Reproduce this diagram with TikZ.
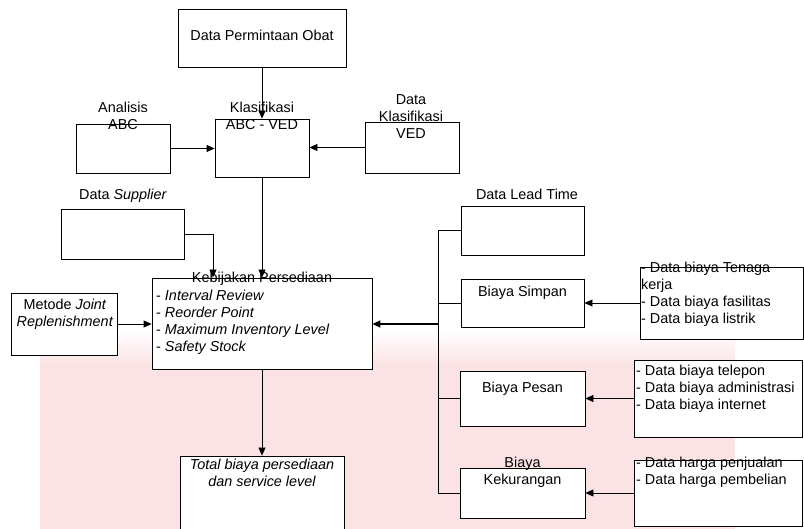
\documentclass[tikz,border=0pt]{standalone}
\usepackage{fontspec}
\setmainfont{Liberation Sans}
\usetikzlibrary{arrows.meta}
\definecolor{wm}{RGB}{251,227,229}
\begin{document}
\begin{tikzpicture}[x=1pt,y=-1pt,
  box/.style={draw, line width=0.8pt, fill=white, inner sep=0pt},
  lbl/.style={inner sep=0pt, font=\fontsize{14.4}{17}\selectfont},
  arr/.style={-{Triangle[length=8pt,width=7pt]}, line width=0.8pt},
  ln/.style={line width=0.8pt}]
\clip (0,0) rectangle (804,529);
\shade[top color=white, bottom color=wm] (40,330) rectangle (735,365);
\fill[wm] (40,365) rectangle (735,529);
% boxes
\node[box, minimum width=168pt, minimum height=58pt] (perm) at (262,38) {};
\node[box, minimum width=94pt, minimum height=49pt] (abc) at (123,148.5) {};
\node[box, minimum width=94pt, minimum height=58pt] (klas) at (262,148) {};
\node[box, minimum width=94pt, minimum height=51pt] (ved) at (412,147.5) {};
\node[box, minimum width=123pt, minimum height=50pt] (supp) at (122.5,234) {};
\node[box, minimum width=220pt, minimum height=91pt] (keb) at (262,323.5) {};
\node[box, minimum width=106pt, minimum height=62pt] (met) at (64,324) {};
\node[box, minimum width=164pt, minimum height=88pt] (total) at (262,500) {};
\node[box, minimum width=123pt, minimum height=49pt] (lead) at (522.5,230.5) {};
\node[box, minimum width=123pt, minimum height=48pt] (simpan) at (522.5,303) {};
\node[box, minimum width=125pt, minimum height=55pt] (pesan) at (522.5,398.5) {};
\node[box, minimum width=125pt, minimum height=50pt] (kurang) at (522.5,493) {};
\node[box, minimum width=163pt, minimum height=72pt] (c1) at (721.5,303) {};
\node[box, minimum width=168pt, minimum height=77pt] (c2) at (718,398.5) {};
\node[box, minimum width=168pt, minimum height=66pt] (c3) at (718,493) {};
% connectors
\draw[arr] (perm.south) -- (klas.north);
\draw[arr] (abc.east) -- (klas.west |- abc.east);
\draw[arr] (ved.west) -- (klas.east |- ved.west);
\draw[arr] (klas.south) -- (keb.north);
\draw[arr] (keb.south) -- (total.north);
\coordinate (sbend) at (213,234);
\draw[arr] (supp.east) -- (sbend) -- (sbend |- keb.north);
\draw[arr] (met.east) -- (keb.west |- met.east);
\coordinate (bt) at (438,230.5);
\coordinate (bb) at (438,493);
\coordinate (bm) at (438,324);
\draw[ln] (lead.west) -- (bt) -- (bb) -- (kurang.west);
\draw[ln] (simpan.west) -- (simpan.west -| bt);
\draw[ln] (pesan.west) -- (pesan.west -| bt);
\draw[arr, line width=1.5pt] (bm) -- (keb.east |- bm);
\draw[arr] (c1.west) -- (simpan.east);
\draw[arr] (c2.west) -- (pesan.east);
\draw[arr] (c3.west) -- (kurang.east);
% texts
\node[lbl] (tperm) at (262,35) {Data Permintaan Obat};
\node[lbl, align=center] (tabc) at (123,116) {Analisis\\ABC};
\node[lbl, align=center] (tklas) at (262,116) {Klasifikasi\\ABC - VED};
\node[lbl, align=center] (tved) at (411,117) {Data\\Klasifikasi\\VED};
\node[lbl] (tsupp) at (123,196) {Data \textit{Supplier}};
\node[lbl] (tkeb) at (262,279) {Kebijakan Persediaan};
\node[lbl, align=left, anchor=west] (tkebl) at (156,322) {- \textit{Interval Review}\\- \textit{Reorder Point}\\- \textit{Maximum Inventory Level}\\- \textit{Safety Stock}};
\node[lbl, align=center] (tmet) at (65,314.5) {Metode \textit{Joint}\\\textit{Replenishment}};
\node[lbl, align=center, font=\fontsize{14.4}{17}\selectfont\itshape] (ttot) at (262,472.5) {Total biaya persediaan\\dan service level};
\node[lbl] (tlead) at (527,194) {Data Lead Time};
\node[lbl] (tsimp) at (522.5,293) {Biaya Simpan};
\node[lbl] (tpes) at (522.5,389) {Biaya Pesan};
\node[lbl, align=center] (tkur) at (522.5,472.5) {Biaya\\Kekurangan};
\node[lbl, align=left, anchor=west] (tc1) at (641,294) {- Data biaya Tenaga\\kerja\\- Data biaya fasilitas\\- Data biaya listrik};
\node[lbl, align=left, anchor=west] (tc2) at (636,389) {- Data biaya telepon\\- Data biaya administrasi\\- Data biaya internet};
\node[lbl, align=left, anchor=west] (tc3) at (636,472.5) {- Data harga penjualan\\- Data harga pembelian};
\end{tikzpicture}
\end{document}
